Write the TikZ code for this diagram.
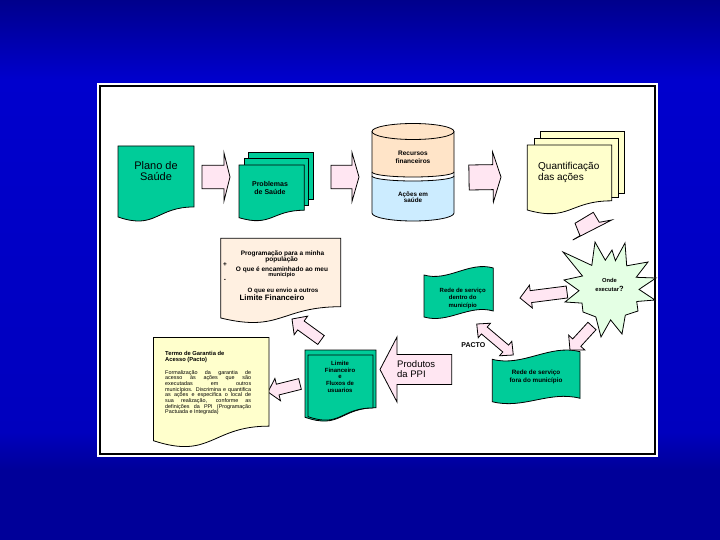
\documentclass[tikz,border=0pt]{standalone}
\usepackage{fontspec}
\setmainfont{Liberation Sans}
\definecolor{bgtop}{RGB}{0,0,140}
\definecolor{bgmid}{RGB}{0,0,205}
\definecolor{bglow}{RGB}{0,0,190}
\definecolor{bgbot}{RGB}{0,0,153}
\definecolor{tealgreen}{RGB}{0,204,153}
\definecolor{pinkarrow}{RGB}{255,230,242}
\definecolor{peach}{RGB}{255,228,200}
\definecolor{peachlight}{RGB}{255,240,225}
\definecolor{skyblue}{RGB}{204,236,255}
\definecolor{paleyellow}{RGB}{255,255,204}
\definecolor{palegreen}{RGB}{228,255,228}
\pgfdeclareverticalshading{bgshade}{100bp}{color(0bp)=(bgbot); color(31.5bp)=(bgbot); color(35bp)=(bglow); color(67.6bp)=(bgmid); color(75bp)=(bgtop); color(100bp)=(bgtop)}
\newcommand{\docshape}[5]{%
  \draw[#1] (#2,#3) -- ({#2+#4},#3) -- ({#2+#4},{#3+0.802*#5})
    .. controls ({#2+0.5*#4},{#3+0.802*#5}) and ({#2+0.5*#4},{#3+1.107*#5}) .. (#2,{#3+0.934*#5}) -- cycle;}
\newcommand{\tapeshape}[8]{%
  \draw[#1] (#2,#4) .. controls ({#2+0.35*(#3-#2)},{#4+#8}) and ({#2+0.65*(#3-#2)},{#5-#8}) .. (#3,#5)
     -- (#3,#7) .. controls ({#2+0.65*(#3-#2)},{#7-#8}) and ({#2+0.35*(#3-#2)},{#6+#8}) .. (#2,#6) -- cycle;}
\newcommand{\blockarrow}[8]{% style, tailx, taily, tipx, tipy, bodyhalf, headhalf, headlen
  \pgfmathsetmacro{\BAdx}{#4-#2}%
  \pgfmathsetmacro{\BAdy}{#5-#3}%
  \pgfmathsetmacro{\BAlen}{veclen(\BAdx,\BAdy)}%
  \pgfmathsetmacro{\BAang}{atan2(-\BAdy,\BAdx)}%
  \begin{scope}[shift={(#4,#5)},rotate=\BAang]
    \draw[#1] (0,0) -- (-#8,-#7) -- (-#8,-#6) -- (-\BAlen,-#6) -- (-\BAlen,#6) -- (-#8,#6) -- (-#8,#7) -- cycle;
  \end{scope}}
\newcommand{\dblarrow}[8]{%
  \pgfmathsetmacro{\BAdx}{#4-#2}%
  \pgfmathsetmacro{\BAdy}{#5-#3}%
  \pgfmathsetmacro{\BAlen}{veclen(\BAdx,\BAdy)}%
  \pgfmathsetmacro{\BAin}{\BAlen-#8}%
  \pgfmathsetmacro{\BAang}{atan2(-\BAdy,\BAdx)}%
  \begin{scope}[shift={(#4,#5)},rotate=\BAang]
    \draw[#1] (0,0) -- (-#8,-#7) -- (-#8,-#6) -- (-\BAin,-#6) -- (-\BAin,-#7) -- (-\BAlen,0)
      -- (-\BAin,#7) -- (-\BAin,#6) -- (-#8,#6) -- (-#8,#7) -- cycle;
  \end{scope}}
\tikzset{
  outl/.style={draw=black, line width=0.8pt},
  greenbox/.style={outl, fill=tealgreen},
  arrowst/.style={outl, fill=pinkarrow},
  lbl/.style={inner sep=0pt, align=center, text=black},
  smallb/.style={lbl, font=\fontsize{6.5}{6.5}\selectfont\bfseries},
}
\begin{document}
\begin{tikzpicture}[x=1pt,y=-1pt]
\useasboundingbox (0,0) rectangle (720,540);
% background
\shade[shading=bgshade] (0,0) rectangle (720,540);
% panel
\fill[white] (97,83) rectangle (658,457);
\draw[line width=1.3pt] (100,86) rectangle (655,454);

% Plano de Saude
\docshape{greenbox}{118}{146}{76}{76}
\node[lbl, font=\fontsize{11}{11}\selectfont] (plano) at (156,171.5) {Plano de\\Saúde};

% Problemas de Saude
\draw[greenbox] (248,152.7) rectangle (313.7,199);
\draw[greenbox] (244.3,158.3) rectangle (308.7,205);
\docshape{greenbox}{239}{165}{65.3}{56.4}
\node[lbl, font=\fontsize{7}{8}\selectfont\bfseries] (problemas) at (270,187.7) {Problemas\\de Saúde};

% Cylinder
\fill[peach] (372,131.5) arc[start angle=180,end angle=360,x radius=41,y radius=8]
  -- (454,172) arc[start angle=0,end angle=180,x radius=41,y radius=5] -- cycle;
\fill[skyblue] (372,176) arc[start angle=180,end angle=0,x radius=41,y radius=5]
  -- (454,213) arc[start angle=0,end angle=180,x radius=41,y radius=8] -- cycle;
\draw[outl] (372,131.5) -- (372,213) arc[start angle=180,end angle=0,x radius=41,y radius=8] -- (454,131.5);
\draw[outl] (413,131.5) ellipse [x radius=41,y radius=8];
\draw[outl] (372,172) arc[start angle=180,end angle=0,x radius=41,y radius=5];
\draw[outl] (372,176) arc[start angle=180,end angle=0,x radius=41,y radius=5];
\node[smallb, font=\fontsize{6.5}{7.7}\selectfont\bfseries] (recursos) at (413,157) {Recursos\\financeiros};
\node[smallb, font=\fontsize{6.3}{6.5}\selectfont\bfseries] (acoes) at (413,197.2) {Ações em\\saúde};

% Quantificacao
\draw[outl, fill=paleyellow] (540.7,131.7) rectangle (624.3,193.3);
\draw[outl, fill=paleyellow] (534,138.3) rectangle (618.3,197);
\docshape{outl, fill=paleyellow}{527.3}{145}{84.4}{69.6}
\node[lbl, anchor=west, align=left, font=\fontsize{10}{10.4}\selectfont] (quant) at (538,172.5) {Quantificação\\das ações};

% arrows top row
\blockarrow{arrowst}{202}{177}{230}{177}{11.8}{24}{6}
\blockarrow{arrowst}{331}{177}{359}{177}{11.8}{24.5}{7}
\blockarrow{arrowst}{469}{177.5}{501}{177}{12.5}{25}{8}
\draw[arrowst] (575,223.3) -- (593.3,212.3) -- (599.3,222.3) -- (611.7,220) -- (572.7,240) -- (580,235.7) -- cycle;

% Programacao
\docshape{outl, fill=peachlight}{220.7}{238.3}{120}{85.3}
\node[smallb] (p1) at (282.5,254) {Programação para a minha};
\node[smallb] (p2) at (281.7,259.6) {população};
\node[smallb] (p3) at (225,264.3) {+};
\node[smallb] (p4) at (282,269.5) {O que é encaminhado ao meu};
\node[smallb, font=\fontsize{5.6}{5.6}\selectfont\bfseries] (p5) at (281.7,274.6) {município};
\node[smallb] (p6) at (225,280) {-};
\node[smallb, font=\fontsize{6.2}{6.2}\selectfont\bfseries] (p7) at (283,290.7) {O que eu envio a outros};
\node[smallb, font=\fontsize{7.8}{7.8}\selectfont\bfseries] (p8) at (272,297.7) {Limite Financeiro};

% Star
\draw[outl, fill=palegreen] (595,242) -- (605.3,260.2) -- (612,250) -- (615.4,260.7) -- (625,243) -- (626.7,265.8)
  -- (648,262) -- (636.2,277.3) -- (656,278) -- (639,289.4) -- (655,300) -- (636.7,301.5) -- (638,311)
  -- (625.3,315.2) -- (622,334) -- (610.6,319.9) -- (601,337) -- (595.8,316.9) -- (583,312) -- (582,303.1)
  -- (565,302) -- (579,290.7) -- (564,280) -- (582.5,276) -- (563,252) -- (591.8,265.4) -- cycle;
\node[lbl, font=\fontsize{5.8}{9}\selectfont\bfseries] (onde) at (609.5,284.5) {Onde\\executar{\fontsize{7.5}{9}\selectfont ?}};

% Rede dentro
\tapeshape{greenbox}{424}{493.3}{275}{268}{317}{311}{7}
\node[lbl, font=\fontsize{6}{7.3}\selectfont\bfseries] (dentro) at (462.7,298.3) {Rede de serviço\\dentro do\\município};

% Rede fora
\tapeshape{greenbox}{492.3}{580}{359.3}{351.7}{401.7}{398.3}{8}
\node[lbl, font=\fontsize{6.3}{7.7}\selectfont\bfseries] (fora) at (536,377) {Rede de serviço\\fora do município};

% arrows middle
\blockarrow{arrowst}{567}{292}{520}{298}{6}{11.5}{11}
\blockarrow{arrowst}{592}{326}{570}{350}{5.5}{11}{10}
\dblarrow{arrowst}{476.7}{324}{513.3}{355}{4.5}{9.5}{10}
\node[lbl, font=\fontsize{7}{7}\selectfont\bfseries] (pacto) at (473.3,345) {PACTO};

% Produtos da PPI
\blockarrow{arrowst}{451.7}{369.5}{380}{369.5}{15}{32.5}{17}
\node[lbl, anchor=west, align=left, font=\fontsize{9.5}{10}\selectfont] (produtos) at (397,369.3) {Produtos\\da PPI};

% Limite financeiro box
\docshape{greenbox}{305}{350}{71}{72}
\docshape{greenbox}{308}{355}{65}{66}
\node[lbl, font=\fontsize{6}{6.7}\selectfont\bfseries] (limite) at (340,376.7) {Limite\\Financeiro\\e\\Fluxos de\\usuarios};

% arrows lower
\blockarrow{arrowst}{321}{340}{292}{319}{5.5}{11.5}{11}
\blockarrow{arrowst}{300}{384}{268}{392}{5.5}{11.5}{10}

% Termo
\docshape{outl, fill=paleyellow}{153.5}{337.5}{115.5}{110.5}
\node[lbl, anchor=west, align=left, font=\fontsize{5.8}{5.8}\selectfont\bfseries] (termo) at (165,357.2) {Termo de Garantia de\\Acesso (Pacto)};
\node[lbl, anchor=north west, align=justify, text width=86pt, font=\fontsize{5.4}{5.65}\selectfont] (termotxt) at (165,370.2)
 {\hyphenpenalty=10000 Formalização da garantia de\linebreak acesso às ações que são\linebreak executadas em outros\linebreak municípios. Discrimina e quantifica\linebreak as ações e especifica o local de\linebreak sua realização, conforme as\linebreak definições da PPI (Programação\linebreak Pactuada e Integrada)};
\end{tikzpicture}
\end{document}
